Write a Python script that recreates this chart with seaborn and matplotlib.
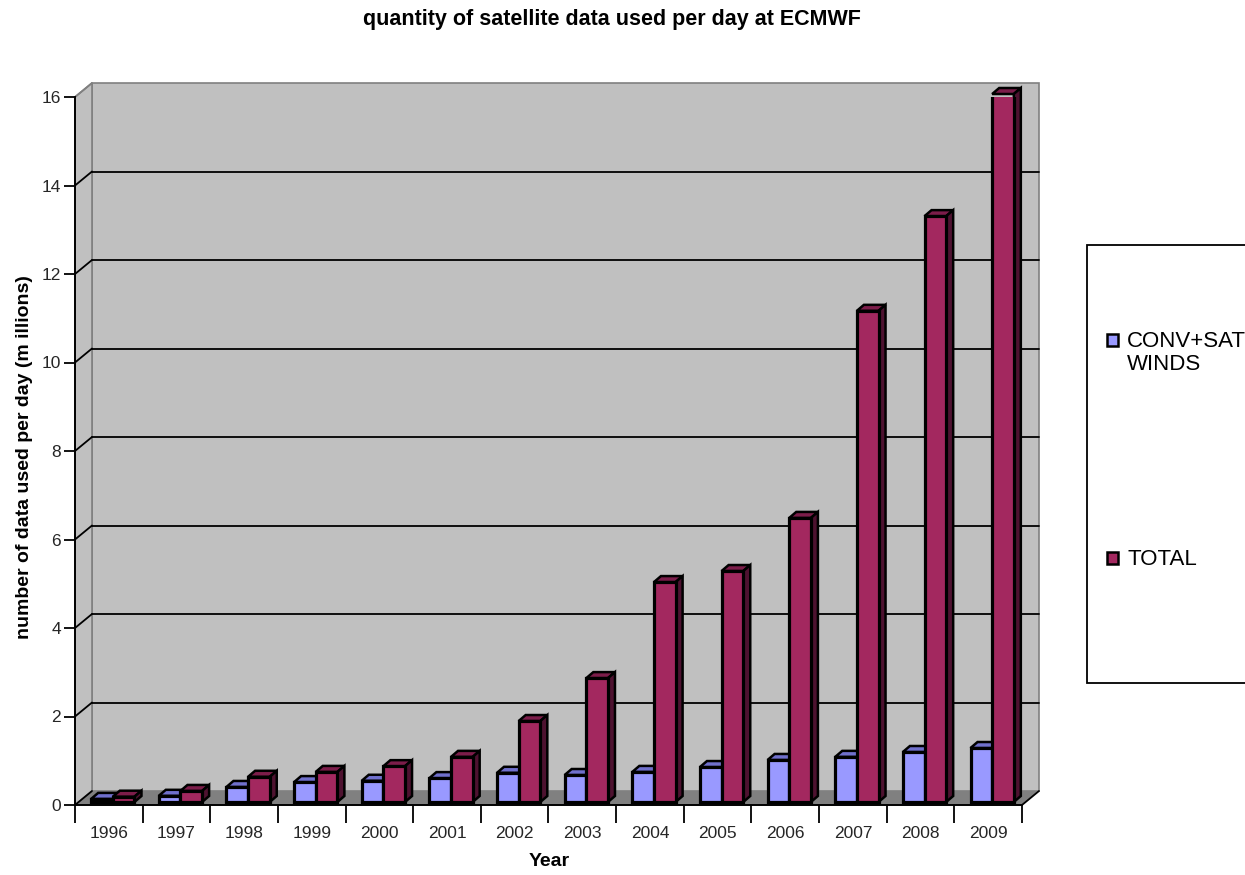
import numpy as np
import pandas as pd
import matplotlib
matplotlib.use("Agg")
import matplotlib.pyplot as plt
import seaborn as sns
from matplotlib.patches import Polygon, Rectangle
from matplotlib.lines import Line2D
from matplotlib.transforms import IdentityTransform, ScaledTranslation

# ---------------- data ----------------
years = [str(y) for y in range(1996, 2010)]
conv_sat_winds = [0.07, 0.14, 0.34, 0.45, 0.48, 0.54, 0.66, 0.61, 0.68, 0.79, 0.95, 1.02, 1.13, 1.22]
total = [0.12, 0.25, 0.57, 0.68, 0.81, 1.02, 1.83, 2.80, 4.97, 5.22, 6.42, 11.10, 13.24, 16.00]
series_names = ["CONV+SAT\nWINDS", "TOTAL"]
y_ticks = [0, 2, 4, 6, 8, 10, 12, 14, 16]
title = "quantity of satellite data used per day at ECMWF"
y_label = "number of data used per day (m illions)"
x_label = "Year"

front_colors = ["#9999ff", "#a3285f"]
top_colors = ["#7070cc", "#7c1d4a"]
side_colors = ["#5555aa", "#4e1230"]

df = pd.DataFrame({
    "Year": years * 2,
    "value": conv_sat_winds + total,
    "series": [series_names[0]] * len(years) + [series_names[1]] * len(years),
})

sns.set_theme(style="white")
plt.rcParams["font.family"] = ["Liberation Sans", "DejaVu Sans"]

W, H = 1245, 875
fig = plt.figure(figsize=(W / 100, H / 100), dpi=100)
fig.patch.set_facecolor("white")
ax = fig.add_axes([75 / W, 70 / H, 947 / W, 708 / H])
ax.set_facecolor("none")

sns.barplot(data=df, x="Year", y="value", hue="series", hue_order=series_names,
            palette=front_colors, width=0.64, saturation=1, ax=ax,
            edgecolor="black", linewidth=2.3, legend=False, zorder=5)
bars = list(ax.patches)

ax.set_xlim(-0.5, len(years) - 0.5)
ax.set_ylim(y_ticks[0], y_ticks[-1])

# ---------------- pseudo 3D frame ----------------
DX, DY = 17, 14          # depth of walls (pixels)
FX, FY = 4, 3            # bars sit slightly behind the front plane
BX, BY = 7, 6            # bar depth
ident = IdentityTransform()
T = ax.transData.transform

x0, x1 = ax.get_xlim()
y0, y1 = ax.get_ylim()
(px0, py0), (px1, py1) = T((x0, y0)), T((x1, y1))

def poly(pts, fc, ec="none", lw=0.0, z=1):
    ax.add_patch(Polygon(pts, closed=True, facecolor=fc, edgecolor=ec, linewidth=lw,
                         transform=ident, clip_on=False, zorder=z))

# back wall
poly([(px0 + DX, py0 + DY), (px1 + DX, py0 + DY), (px1 + DX, py1 + DY), (px0 + DX, py1 + DY)],
     "#c0c0c0", "#808080", 1.2, z=0.5)
# side wall
poly([(px0, py0), (px0 + DX, py0 + DY), (px0 + DX, py1 + DY), (px0, py1)],
     "#c0c0c0", "#808080", 1.2, z=0.6)
# floor
poly([(px0, py0), (px1, py0), (px1 + DX, py0 + DY), (px0 + DX, py0 + DY)],
     "#808080", "none", 0, z=0.7)

# gridlines on back wall + diagonals on side wall
for t in y_ticks:
    _, py = T((x0, t))
    col = "#808080" if t == y_ticks[-1] else "black"
    if t not in (y_ticks[0], y_ticks[-1]):
        ax.add_line(Line2D([px0 + DX, px1 + DX], [py + DY, py + DY], color="black",
                           lw=1.3, transform=ident, clip_on=False, zorder=1))
    ax.add_line(Line2D([px0, px0 + DX], [py, py + DY], color=col, lw=1.3,
                       transform=ident, clip_on=False, zorder=1))
# right end of floor edge
ax.add_line(Line2D([px1, px1 + DX], [py0, py0 + DY], color="black", lw=1.3,
                   transform=ident, clip_on=False, zorder=6))

# ---------------- 3D bars ----------------
shift = ScaledTranslation(FX / 100, FY / 100, fig.dpi_scale_trans)
n = len(years)
for i, p in enumerate(bars):
    s = i // n
    p.set_transform(ax.transData + shift)
    xa, xb = p.get_x(), p.get_x() + p.get_width()
    yb, yt = p.get_y(), p.get_y() + p.get_height()
    (ax_, ay_), (bx_, by_) = T((xa, yb)), T((xb, yt))
    ax_ += FX; bx_ += FX; ay_ += FY; by_ += FY
    # top face
    poly([(ax_, by_), (bx_, by_), (bx_ + BX, by_ + BY), (ax_ + BX, by_ + BY)],
         top_colors[s], "black", 1.8, z=3)
    # side face
    poly([(bx_, ay_), (bx_, by_), (bx_ + BX, by_ + BY), (bx_ + BX, ay_ + BY)],
         side_colors[s], "black", 1.8, z=3)

# ---------------- axes styling ----------------
for sp in ["top", "right"]:
    ax.spines[sp].set_visible(False)
for sp in ["left", "bottom"]:
    ax.spines[sp].set_color("black")
    ax.spines[sp].set_linewidth(1.4)
    ax.spines[sp].set_zorder(6)

ax.set_yticks(y_ticks)
ax.set_yticklabels([str(t) for t in y_ticks])
ax.tick_params(axis="y", which="major", direction="out", length=8, width=1.3,
               color="black", labelsize=12.5, pad=2, left=True)

ax.set_xticks(np.arange(-0.5, n, 1.0))
ax.set_xticklabels([""] * (n + 1))
ax.set_xticks(np.arange(n), minor=True)
ax.set_xticklabels(years, minor=True)
ax.tick_params(axis="x", which="major", direction="out", length=13, width=1.3,
               color="black", bottom=True)
ax.tick_params(axis="x", which="minor", length=0, labelsize=12.5, pad=15)
ax.set_xlabel("")
ax.set_ylabel("")
ax.grid(False)

# ---------------- texts ----------------
fig.text(612 / W, 1 - 20 / H, title, ha="center", va="center",
         fontsize=15.5, fontweight="bold", color="black")
fig.text(549 / W, 1 - 862 / H, x_label, ha="center", va="center",
         fontsize=14, fontweight="bold", color="black")
fig.text(25 / W, 1 - 457 / H, y_label, ha="center", va="center", rotation=90,
         fontsize=14, fontweight="bold", color="black")

# ---------------- legend ----------------
fig.add_artist(Rectangle((1087 / W, 1 - 683 / H), 200 / W, (683 - 245) / H,
                         transform=fig.transFigure, facecolor="white",
                         edgecolor="black", linewidth=1.3, clip_on=False))
legend_rows = [340, 558]
for name, col, yc in zip(series_names, front_colors, legend_rows):
    fig.add_artist(Rectangle((1107 / W, 1 - (yc + 6) / H), 11 / W, 12 / H,
                             transform=fig.transFigure, facecolor=col,
                             edgecolor="black", linewidth=1.8))
    fig.text(1127 / W, 1 - (yc - 9) / H, name, ha="left", va="top",
             fontsize=16, color="black", linespacing=1.12)

fig.savefig("out.png", dpi=100)
